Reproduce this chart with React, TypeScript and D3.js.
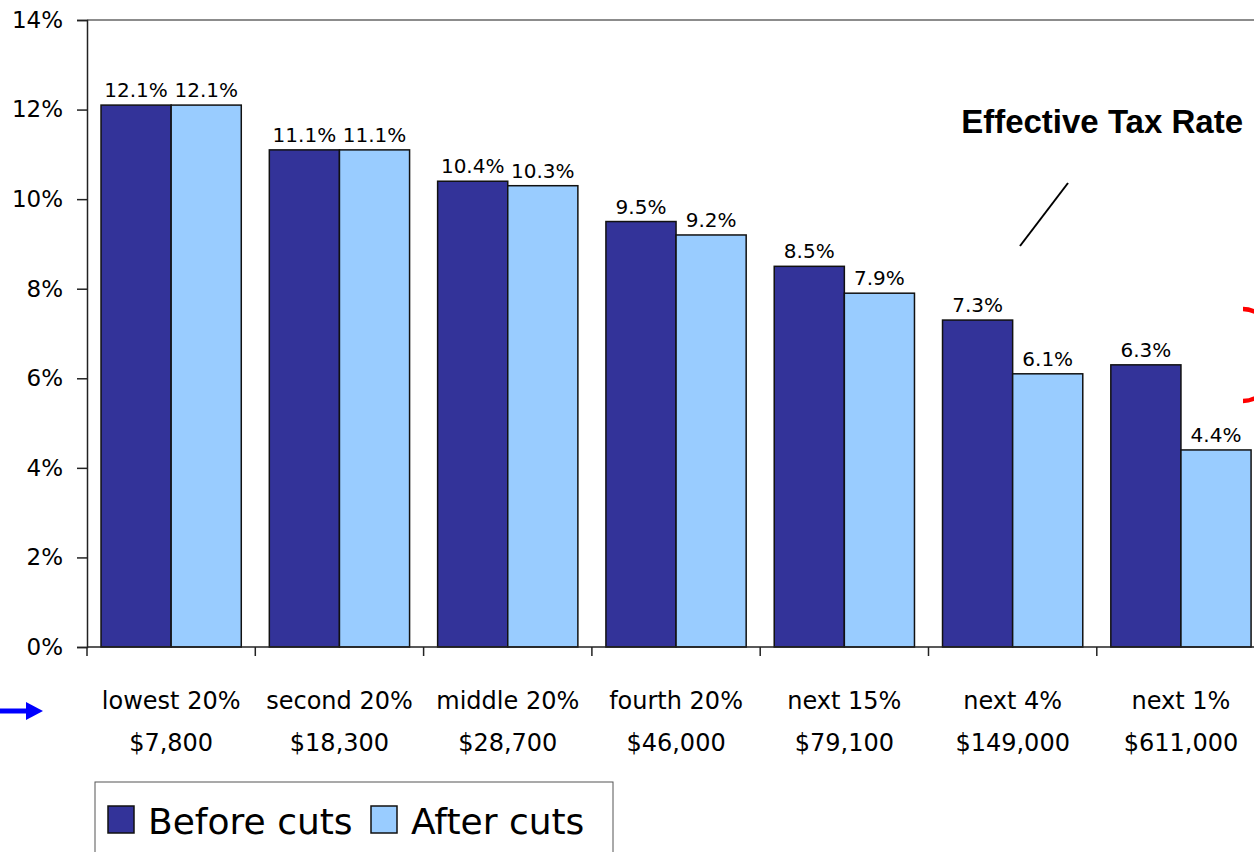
import { useRef, useEffect } from "react";
import * as d3 from "d3";

const groups = ["lowest 20%", "second 20%", "middle 20%", "fourth 20%", "next 15%", "next 4%", "next 1%"];
const incomes = ["$7,800", "$18,300", "$28,700", "$46,000", "$79,100", "$149,000", "$611,000"];
const before = [12.1, 11.1, 10.4, 9.5, 8.5, 7.3, 6.3];
const after = [12.1, 11.1, 10.3, 9.2, 7.9, 6.1, 4.4];
const series = ["Before cuts", "After cuts"];
const yTicks = [0, 2, 4, 6, 8, 10, 12, 14];

const colors = ["#333399", "#99CCFF"];
const font = "'Comic Sans MS', 'DejaVu Sans', sans-serif";

export default function App() {
	const ref = useRef<SVGSVGElement>(null);

	useEffect(() => {
		const width = 1254;
		const left = 87;
		const step = 168.3;

		const svg = d3.select(ref.current);
		svg.selectAll("*").remove();

		// ---- Scales ----
		const x = d3
			.scaleBand<string>()
			.domain(groups)
			.range([left, left + step * groups.length])
			.padding(0);

		const x1 = d3.scaleBand<string>().domain(series).range([0, x.bandwidth()]).paddingInner(0).paddingOuter(0.2);

		const y = d3.scaleLinear().domain([0, 14]).range([647, 20]);

		// ---- Plot frame (top) ----
		svg.append("line")
			.attr("x1", left)
			.attr("x2", width)
			.attr("y1", y(14))
			.attr("y2", y(14))
			.attr("stroke", "#8c8c8c")
			.attr("stroke-width", 2);

		// ---- Bars ----
		const rows = groups.map((g, i) => ({ g, vals: [before[i], after[i]] }));

		const grp = svg
			.selectAll("g.grp")
			.data(rows)
			.enter()
			.append("g")
			.attr("transform", (d) => `translate(${x(d.g)},0)`);

		grp.selectAll("rect")
			.data((d) => d.vals.map((v, j) => ({ v, s: series[j], j })))
			.enter()
			.append("rect")
			.attr("x", (d) => x1(d.s)!)
			.attr("y", (d) => y(d.v))
			.attr("width", x1.bandwidth())
			.attr("height", (d) => y(0) - y(d.v))
			.attr("fill", (d) => colors[d.j])
			.attr("stroke", "#111")
			.attr("stroke-width", 1.5);

		grp.selectAll("text.val")
			.data((d) => d.vals.map((v, j) => ({ v, s: series[j] })))
			.enter()
			.append("text")
			.attr("x", (d) => x1(d.s)! + x1.bandwidth() / 2)
			.attr("y", (d) => y(d.v) - 8)
			.attr("text-anchor", "middle")
			.style("font-family", font)
			.style("font-size", "20px")
			.style("fill", "#000")
			.text((d) => d.v.toFixed(1) + "%");

		// ---- Axes ----
		const yAxis = svg
			.append("g")
			.attr("transform", `translate(${left},0)`)
			.call(
				d3
					.axisLeft(y)
					.tickValues(yTicks)
					.tickSize(10)
					.tickPadding(14)
					.tickFormat((d) => `${d}%`)
			);
		yAxis.select(".domain").attr("stroke", "#222").attr("stroke-width", 1.5);
		yAxis.selectAll(".tick line").attr("stroke", "#222").attr("stroke-width", 1.5);
		yAxis.selectAll(".tick text").style("font-family", font).style("font-size", "23px").attr("fill", "#000");

		svg.append("line")
			.attr("x1", left)
			.attr("x2", width)
			.attr("y1", y(0))
			.attr("y2", y(0))
			.attr("stroke", "#222")
			.attr("stroke-width", 1.5);

		const bounds = groups.map((g) => x(g)!);
		svg.selectAll("line.xt")
			.data(bounds)
			.enter()
			.append("line")
			.attr("x1", (d) => d)
			.attr("x2", (d) => d)
			.attr("y1", y(0))
			.attr("y2", y(0) + 9)
			.attr("stroke", "#222")
			.attr("stroke-width", 1.5);

		// ---- Category labels ----
		const cats = svg
			.selectAll("g.cat")
			.data(groups)
			.enter()
			.append("g")
			.attr("transform", (d) => `translate(${x(d)! + x.bandwidth() / 2},0)`);

		cats.append("text")
			.attr("y", 709)
			.attr("text-anchor", "middle")
			.style("font-family", font)
			.style("font-size", "24px")
			.text((d) => d);

		cats.append("text")
			.attr("y", 751)
			.attr("text-anchor", "middle")
			.style("font-family", font)
			.style("font-size", "24px")
			.text((d, i) => incomes[i]);

		// ---- Legend ----
		svg.append("rect")
			.attr("x", 95)
			.attr("y", 782)
			.attr("width", 518)
			.attr("height", 90)
			.attr("fill", "#fff")
			.attr("stroke", "#555")
			.attr("stroke-width", 1);

		const legX = [108, 371];
		series.forEach((s, i) => {
			svg.append("rect")
				.attr("x", legX[i])
				.attr("y", 806)
				.attr("width", 26)
				.attr("height", 27)
				.attr("fill", colors[i])
				.attr("stroke", "#111")
				.attr("stroke-width", 1.5);
			svg.append("text")
				.attr("x", legX[i] + 40)
				.attr("y", 834)
				.style("font-family", font)
				.style("font-size", "36px")
				.text(s);
		});

		// ---- Annotations ----
		svg.append("text")
			.attr("x", 1243)
			.attr("y", 133)
			.attr("text-anchor", "end")
			.style("font-family", "'Liberation Sans', Arial, sans-serif")
			.style("font-weight", "bold")
			.style("font-size", "33px")
			.text("Effective Tax Rate");

		svg.append("line")
			.attr("x1", 1068)
			.attr("y1", 183)
			.attr("x2", 1020)
			.attr("y2", 246)
			.attr("stroke", "#000")
			.attr("stroke-width", 2);

		svg.append("path")
			.attr("d", "M1243,309 A34,46 0 0 1 1243,401")
			.attr("fill", "none")
			.attr("stroke", "#ff0000")
			.attr("stroke-width", 4.5);

		svg.append("line")
			.attr("x1", 0)
			.attr("y1", 711)
			.attr("x2", 28)
			.attr("y2", 711)
			.attr("stroke", "#0000ff")
			.attr("stroke-width", 5);

		svg.append("path").attr("d", "M26,702 L43,711 L26,720 Z").attr("fill", "#0000ff");
	}, []);

	return (
		<svg
			ref={ref}
			width={1254}
			height={852}
			style={{ position: "absolute", left: 0, top: 0, background: "#fff" }}
		/>
	);
}
